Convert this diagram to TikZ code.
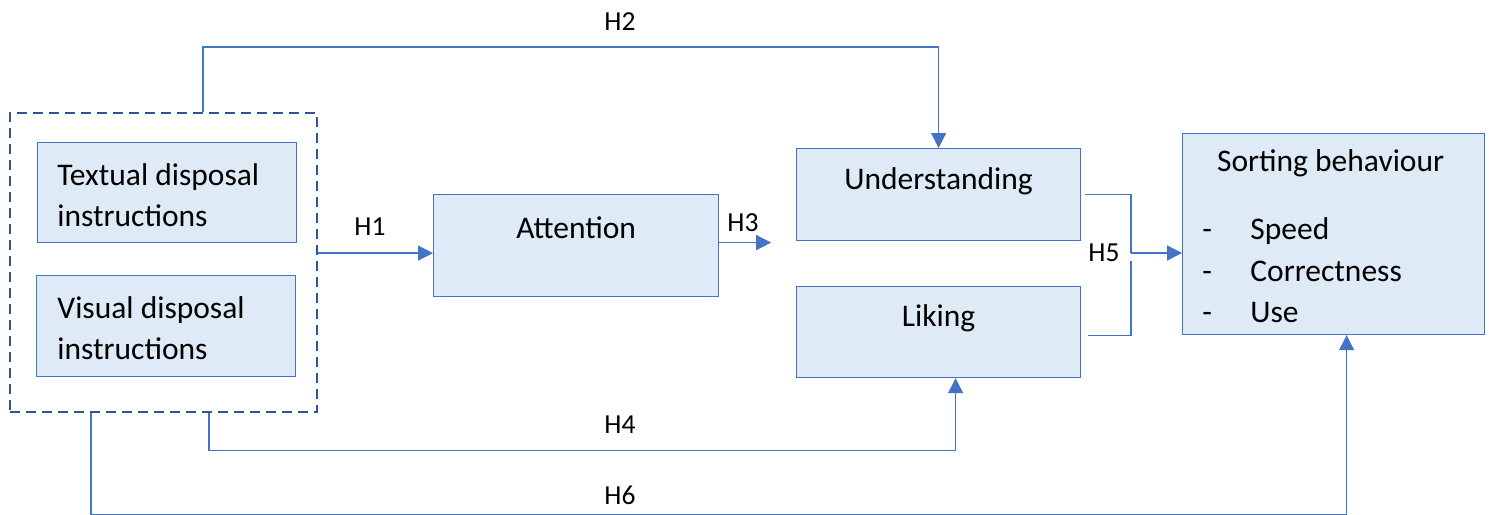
\documentclass[tikz,border=0pt]{standalone}
\usepackage{fontspec}
\setmainfont{Carlito}
\usepackage{xcolor}
\usepackage{tikz}
\usetikzlibrary{positioning, arrows.meta}
\definecolor{boxfill}{HTML}{DEEBF7}
\definecolor{boxline}{HTML}{4472C4}
\definecolor{grpline}{HTML}{2F5597}

\begin{document}
\begin{tikzpicture}[x=0.5pt, y=-0.5pt,
	box/.style = {draw=boxline, fill=boxfill, line width=0.6pt, anchor=north west, inner sep=0pt},
	grp/.style = {draw=grpline, dash pattern=on 5pt off 3pt, line width=1.1pt, anchor=north west, inner sep=0pt},
	txt/.style = {font=\fontsize{15.75}{20.75}\selectfont, inner sep=0pt, align=left},
	hyp/.style = {font=\fontsize{13.75}{16}\selectfont, inner sep=0pt},
	conn/.style = {draw=boxline, line width=0.65pt, -{Triangle[length=7.5pt, width=7.5pt]}},
	link/.style = {draw=boxline, line width=0.65pt}]
	\useasboundingbox (0,0) rectangle (1491,514);

	\node[grp, minimum width=153.5pt, minimum height=149.5pt] (grp) at (9,112) {};
	\node[box, minimum width=129.5pt, minimum height=50pt] (tex) at (37,142) {};
	\node[box, minimum width=129.5pt, minimum height=50.5pt] (vis) at (36,275) {};
	\node[box, minimum width=142.5pt, minimum height=51pt] (att) at (433,194) {};
	\node[box, minimum width=142pt, minimum height=46pt] (und) at (796,148) {};
	\node[box, minimum width=142pt, minimum height=45.5pt] (lik) at (796,286) {};
	\node[box, minimum width=151pt, minimum height=100.5pt] (sort) at (1182,133) {};

	\node[txt, right=10pt of tex.west, yshift=-1.25pt] (textxt) {Textual disposal\\instructions};
	\node[txt, right=10.5pt of vis.west, yshift=-1pt] (vistxt) {Visual disposal\\instructions};
	\node[txt] (atttxt) at ([yshift=9pt]att.center) {Attention};
	\node[txt] (undtxt) at ([yshift=6.5pt]und.center) {Understanding};
	\node[txt] (liktxt) at ([yshift=6.75pt]lik.center) {Liking};
	\node[txt] (sorttxt) at ([xshift=-1.5pt, yshift=-15pt]sort.north) {Sorting behaviour};
	\node[txt, right=10pt of sort.west, yshift=-18.25pt] (sortlist)
		{\makebox[24pt][l]{-}Speed\\\makebox[24pt][l]{-}Correctness\\\makebox[24pt][l]{-}Use};

	\coordinate (h1s) at ([yshift=4.75pt]grp.east);
	\coordinate (h3s) at ([yshift=1.5pt]att.east);
	\coordinate (h3e) at ([xshift=26pt]h3s);
	\coordinate (h5j) at (1131,253);

	\draw[conn] (h1s) -- (h1s -| att.west);
	\draw[conn] (h3s) -- (h3e);
	\draw[conn] ([xshift=19.75pt]grp.north) -- ++(0,-65) -| (und.north);
	\draw[conn] ([xshift=22.75pt]grp.south) -- ++(0,37) -| ([xshift=8.5pt]lik.south);
	\draw[conn] ([xshift=-36.25pt]grp.south) -- ++(0,101) -| ([xshift=6.5pt]sort.south);
	\draw[link] ([xshift=2pt]und.east) -| (h5j);
	\draw[link] ([xshift=3.5pt, yshift=-1.75pt]lik.east) -| ([yshift=-4pt]h5j);
	\draw[conn] (h5j) -- (h5j -| sort.west);

	\node[hyp] (h1) at (370,227) {H1};
	\node[hyp] (h2) at (620,22) {H2};
	\node[hyp] (h3) at (743,223) {H3};
	\node[hyp] (h4) at (620,425) {H4};
	\node[hyp] (h5) at (1104,253) {H5};
	\node[hyp] (h6) at (620,495) {H6};
\end{tikzpicture}
\end{document}
